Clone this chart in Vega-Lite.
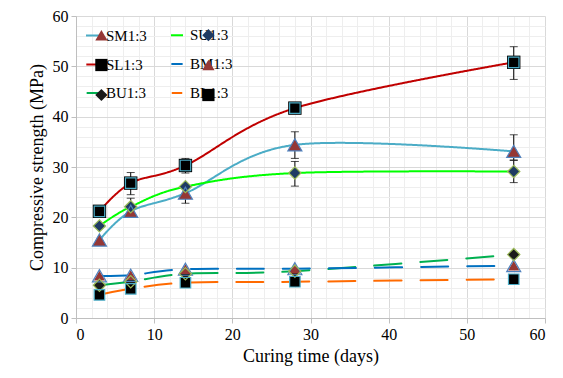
{
  "$schema": "https://vega.github.io/schema/vega-lite/v6.json",
  "width": 469,
  "height": 302,
  "autosize": "none",
  "padding": {"left": 76, "top": 16, "right": 18, "bottom": 60},
  "background": "white",
  "config": {
    "font": "Liberation Serif, Times New Roman, serif",
    "view": {"stroke": null},
    "style": {
      "guide-label": {"font": "Liberation Serif, Times New Roman, serif"},
      "guide-title": {"font": "Liberation Serif, Times New Roman, serif"}
    },
    "axis": {
      "labelFont": "Liberation Serif, Times New Roman, serif",
      "titleFont": "Liberation Serif, Times New Roman, serif",
      "labelFontSize": 16,
      "titleFontSize": 18,
      "labelColor": "#000000",
      "titleColor": "#000000",
      "titleFontWeight": "normal",
      "domainColor": "#bfbfbf",
      "tickColor": "#bfbfbf",
      "gridColor": "#d9d9d9"
    },
    "legend": {
      "labelFont": "Liberation Serif, Times New Roman, serif",
      "labelFontSize": 15,
      "labelColor": "#000000",
      "padding": 0
    }
  },
  "datasets": {
    "main": [
      {"series": "SM1:3", "day": 3, "value": 15.5},
      {"series": "SM1:3", "day": 7, "value": 21.2},
      {"series": "SM1:3", "day": 14, "value": 24.8},
      {"series": "SM1:3", "day": 28, "value": 34.4},
      {"series": "SM1:3", "day": 56, "value": 33.1},
      {"series": "SL1:3", "day": 3, "value": 21.2},
      {"series": "SL1:3", "day": 7, "value": 26.8},
      {"series": "SL1:3", "day": 14, "value": 30.3},
      {"series": "SL1:3", "day": 28, "value": 41.7},
      {"series": "SL1:3", "day": 56, "value": 50.8},
      {"series": "BU1:3", "day": 3, "value": 6.5},
      {"series": "BU1:3", "day": 7, "value": 7.2},
      {"series": "BU1:3", "day": 14, "value": 8.8},
      {"series": "BU1:3", "day": 28, "value": 9.3},
      {"series": "BU1:3", "day": 56, "value": 12.6},
      {"series": "SU1:3", "day": 3, "value": 18.3},
      {"series": "SU1:3", "day": 7, "value": 22.1},
      {"series": "SU1:3", "day": 14, "value": 26.1},
      {"series": "SU1:3", "day": 28, "value": 28.8},
      {"series": "SU1:3", "day": 56, "value": 29.1},
      {"series": "BM1:3", "day": 3, "value": 8.4},
      {"series": "BM1:3", "day": 7, "value": 8.5},
      {"series": "BM1:3", "day": 14, "value": 9.7},
      {"series": "BM1:3", "day": 28, "value": 9.8},
      {"series": "BM1:3", "day": 56, "value": 10.4},
      {"series": "BL1:3", "day": 3, "value": 4.6},
      {"series": "BL1:3", "day": 7, "value": 5.8},
      {"series": "BL1:3", "day": 14, "value": 7.0},
      {"series": "BL1:3", "day": 28, "value": 7.2},
      {"series": "BL1:3", "day": 56, "value": 7.7}
    ],
    "err": [
      {"series": "SL1:3", "day": 7, "lo": 24.5, "hi": 28.9},
      {"series": "SL1:3", "day": 14, "lo": 28.8, "hi": 31.7},
      {"series": "SL1:3", "day": 28, "lo": 40.9, "hi": 42.5},
      {"series": "SL1:3", "day": 56, "lo": 47.4, "hi": 53.9},
      {"series": "SM1:3", "day": 14, "lo": 22.8, "hi": 26.2},
      {"series": "SM1:3", "day": 28, "lo": 31.7, "hi": 37.0},
      {"series": "SM1:3", "day": 56, "lo": 31.4, "hi": 36.4},
      {"series": "SU1:3", "day": 7, "lo": 20.5, "hi": 23.8},
      {"series": "SU1:3", "day": 28, "lo": 26.2, "hi": 31.1},
      {"series": "SU1:3", "day": 56, "lo": 26.9, "hi": 31.3}
    ]
  },
  "layer": [
    {
      "data": {"name": "main"},
      "mark": {"type": "line", "interpolate": "cardinal", "strokeCap": "round"},
      "encoding": {
        "x": {"field": "day", "type": "quantitative", "scale": {"domain": [0, 60], "nice": false},
          "axis": {"orient": "bottom", "values": [2,4,6,8,12,14,16,18,22,24,26,28,32,34,36,38,42,44,46,48,52,54,56,58], "grid": true, "gridColor": "#eeeeee", "labels": false, "ticks": false, "domain": false, "title": null}},
        "y": {"field": "value", "type": "quantitative", "scale": {"domain": [0, 60], "nice": false},
          "axis": {"orient": "left", "values": [2,4,6,8,12,14,16,18,22,24,26,28,32,34,36,38,42,44,46,48,52,54,56,58], "grid": true, "gridColor": "#eeeeee", "labels": false, "ticks": false, "domain": false, "title": null}},
        "stroke": {"field": "series", "type": "nominal",
          "scale": {"domain": ["SM1:3", "SL1:3", "BU1:3", "SU1:3", "BM1:3", "BL1:3"], "range": ["#4BACC6", "#C00000", "#00B050", "#00FF00", "#0070C0", "#FF6A00"]},
          "legend": {"orient": "none", "legendX": 9, "legendY": 11.5, "columns": 2, "title": null, "columnPadding": 19, "rowPadding": 13, "symbolType": "stroke", "symbolSize": 900, "symbolStrokeWidth": 2.5, "labelOffset": 5}},
        "strokeWidth": {"field": "series", "type": "nominal",
          "scale": {"domain": ["SM1:3", "SL1:3", "BU1:3", "SU1:3", "BM1:3", "BL1:3"], "range": [2, 2, 5.5, 2, 5.5, 5.5]}, "legend": null},
        "strokeDash": {"field": "series", "type": "nominal",
          "scale": {"domain": ["SM1:3", "SL1:3", "BU1:3", "SU1:3", "BM1:3", "BL1:3"], "range": [[1, 0], [1, 0], [27, 19], [1, 0], [27, 19], [27, 19]]}, "legend": null}
      }
    },
    {
      "data": {"name": "err"},
      "mark": {"type": "rule", "color": "#000000", "strokeWidth": 1},
      "encoding": {
        "x": {"field": "day", "type": "quantitative", "axis": null},
        "y": {"field": "lo", "type": "quantitative", "axis": null},
        "y2": {"field": "hi"}
      }
    },
    {
      "data": {"name": "err"},
      "mark": {"type": "tick", "orient": "horizontal", "color": "#000000", "size": 8, "thickness": 1},
      "encoding": {
        "x": {"field": "day", "type": "quantitative", "axis": null},
        "y": {"field": "lo", "type": "quantitative", "axis": null}
      }
    },
    {
      "data": {"name": "err"},
      "mark": {"type": "tick", "orient": "horizontal", "color": "#000000", "size": 8, "thickness": 1},
      "encoding": {
        "x": {"field": "day", "type": "quantitative", "axis": null},
        "y": {"field": "hi", "type": "quantitative", "axis": null}
      }
    },
    {
      "data": {"name": "main"},
      "mark": {"type": "point", "filled": true, "opacity": 1, "strokeWidth": 0},
      "encoding": {
        "x": {"field": "day", "type": "quantitative", "title": "Curing time (days)",
          "axis": {"orient": "bottom", "values": [0, 10, 20, 30, 40, 50, 60], "grid": true, "tickSize": 5, "titlePadding": 5, "labelPadding": 3}},
        "y": {"field": "value", "type": "quantitative", "title": "Compressive strength  (MPa)",
          "axis": {"orient": "left", "values": [0, 10, 20, 30, 40, 50, 60], "grid": true, "tickSize": 5, "titlePadding": 6, "labelPadding": 3}},
        "shape": {"field": "series", "type": "nominal", "sort": null,
          "scale": {"range": ["triangle-up", "square", "diamond", "diamond", "triangle-up", "square"]},
          "legend": {"orient": "none", "legendX": 9, "legendY": 11.5, "columns": 2, "title": null, "columnPadding": 19, "rowPadding": 13, "symbolSize": 150, "symbolOffset": 8.9, "labelOffset": 22.75, "labelOpacity": 0, "symbolStrokeColor": "#6f8fb5", "symbolStrokeWidth": 1, "symbolOpacity": 1}},
        "fill": {"field": "series", "type": "nominal", "sort": null,
          "scale": {"range": ["#953735", "#000000", "#1a1a1a", "#1F3B63", "#953735", "#000000"]},
          "legend": {"orient": "none", "legendX": 9, "legendY": 11.5, "columns": 2, "title": null, "columnPadding": 19, "rowPadding": 13, "symbolSize": 150, "symbolOffset": 8.9, "labelOffset": 22.75, "labelOpacity": 0, "symbolStrokeColor": "#6f8fb5", "symbolStrokeWidth": 1, "symbolOpacity": 1}},
        "size": {"field": "series", "type": "nominal",
          "scale": {"domain": ["SM1:3", "SL1:3", "BU1:3", "SU1:3", "BM1:3", "BL1:3"], "range": [196, 110, 150, 150, 196, 110]}, "legend": null}
      }
    },
    {
      "data": {"name": "main"},
      "transform": [{"filter": {"field": "series", "oneOf": ["SM1:3", "BM1:3"]}}],
      "mark": {"type": "point", "shape": "triangle-up", "filled": false, "size": 196, "stroke": "#4F81BD", "strokeWidth": 1.2, "opacity": 1},
      "encoding": {
        "x": {"field": "day", "type": "quantitative", "axis": null},
        "y": {"field": "value", "type": "quantitative", "axis": null}
      }
    },
    {
      "data": {"name": "main"},
      "transform": [{"filter": {"field": "series", "oneOf": ["SU1:3", "BU1:3"]}}],
      "mark": {"type": "point", "shape": "diamond", "filled": false, "size": 150, "stroke": "#9BBB59", "strokeWidth": 1.2, "opacity": 1},
      "encoding": {
        "x": {"field": "day", "type": "quantitative", "axis": null},
        "y": {"field": "value", "type": "quantitative", "axis": null}
      }
    },
    {
      "data": {"name": "main"},
      "transform": [{"filter": {"field": "series", "oneOf": ["SL1:3", "BL1:3"]}}],
      "mark": {"type": "point", "shape": "square", "filled": false, "size": 110, "stroke": "#4BACC6", "strokeWidth": 1.2, "opacity": 1},
      "encoding": {
        "x": {"field": "day", "type": "quantitative", "axis": null},
        "y": {"field": "value", "type": "quantitative", "axis": null}
      }
    }
  ],
  "resolve": {"axis": {"x": "independent", "y": "independent"}}
}
